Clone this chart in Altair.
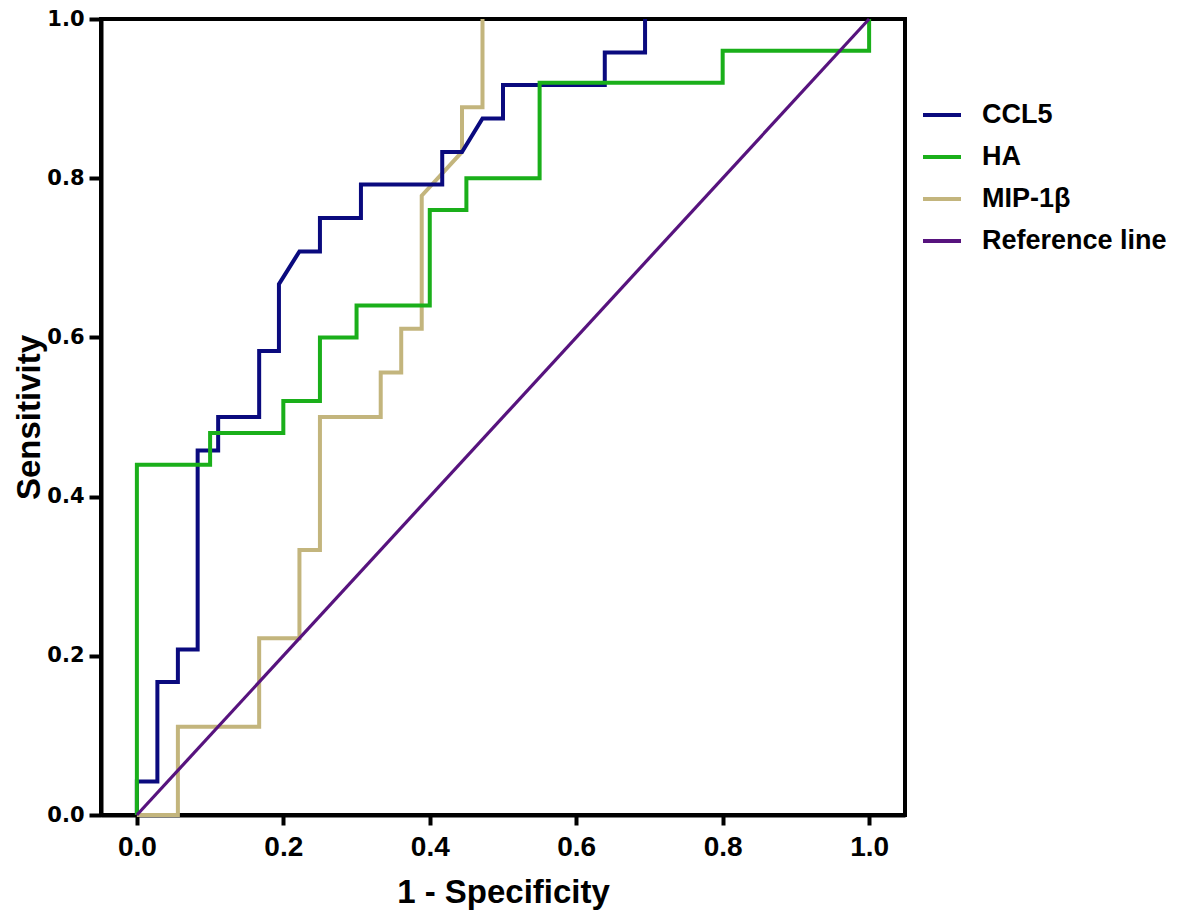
import altair as alt
import pandas as pd

# ROC curve points (1 - Specificity, Sensitivity)
ccl5_x = [0, 0, 0.028, 0.028, 0.056, 0.056, 0.083, 0.083, 0.111, 0.111, 0.167, 0.167, 0.194, 0.194,
          0.222, 0.25, 0.25, 0.306, 0.306, 0.417, 0.417, 0.444, 0.472, 0.5, 0.5, 0.639, 0.639, 0.694, 0.694]
ccl5_y = [0, 0.042, 0.042, 0.167, 0.167, 0.208, 0.208, 0.458, 0.458, 0.5, 0.5, 0.583, 0.583, 0.667,
          0.708, 0.708, 0.75, 0.75, 0.792, 0.792, 0.833, 0.833, 0.875, 0.875, 0.917, 0.917, 0.958, 0.958, 1.0]

ha_x = [0, 0, 0.1, 0.1, 0.2, 0.2, 0.25, 0.25, 0.3, 0.3, 0.4, 0.4, 0.45, 0.45, 0.55, 0.55, 0.8, 0.8, 1.0, 1.0]
ha_y = [0, 0.44, 0.44, 0.48, 0.48, 0.52, 0.52, 0.6, 0.6, 0.64, 0.64, 0.76, 0.76, 0.8, 0.8, 0.92, 0.92, 0.96, 0.96, 1.0]

mip_x = [0, 0.056, 0.056, 0.167, 0.167, 0.222, 0.222, 0.25, 0.25, 0.333, 0.333, 0.361, 0.361, 0.389,
         0.389, 0.444, 0.444, 0.472, 0.472]
mip_y = [0, 0, 0.111, 0.111, 0.222, 0.222, 0.333, 0.333, 0.5, 0.5, 0.556, 0.556, 0.611, 0.611,
         0.778, 0.833, 0.889, 0.889, 1.0]

ref_x = [0, 1]
ref_y = [0, 1]

series_names = ["CCL5", "HA", "MIP-1β", "Reference line"]
series_colors = ["#0A0A7E", "#1AAF1A", "#C3B57D", "#57137E"]
x_ticks = [0.0, 0.2, 0.4, 0.6, 0.8, 1.0]
y_ticks = [0.0, 0.2, 0.4, 0.6, 0.8, 1.0]

rows = []
for name, xs, ys in [("CCL5", ccl5_x, ccl5_y), ("HA", ha_x, ha_y),
                     ("MIP-1β", mip_x, mip_y), ("Reference line", ref_x, ref_y)]:
    for i, (a, b) in enumerate(zip(xs, ys)):
        rows.append({"series": name, "fpr": a, "tpr": b, "idx": i})
df = pd.DataFrame(rows)

color = alt.Color(
    "series:N",
    scale=alt.Scale(domain=series_names, range=series_colors),
    legend=alt.Legend(
        title=None, orient="none", legendX=820, legendY=75,
        symbolType="stroke", symbolSize=1444, symbolStrokeWidth=4,
        labelFont="Liberation Sans", labelFontWeight="bold", labelFontSize=27,
        labelColor="black", labelOffset=19, rowPadding=8, padding=0, labelLimit=400,
    ),
)

x_enc = alt.X(
    "fpr:Q",
    scale=alt.Scale(domain=[-0.049, 1.049], nice=False, zero=False),
    axis=alt.Axis(
        title="1 - Specificity", values=x_ticks, format=".1f",
        domainColor="black", domainWidth=4, tickColor="black", tickWidth=4, tickSize=10,
        labelFont="Liberation Sans", labelFontWeight="bold", labelFontSize=28, labelColor="black",
        labelPadding=8, grid=False,
        titleFont="Liberation Sans", titleFontWeight="bold", titleFontSize=33, titleColor="black",
        titleBaseline="alphabetic", titleY=87,
    ),
)
y_enc = alt.Y(
    "tpr:Q",
    scale=alt.Scale(domain=[0, 1], nice=False),
    axis=alt.Axis(
        title="Sensitivity", values=y_ticks, format=".1f",
        domainColor="black", domainWidth=4, tickColor="black", tickWidth=4, tickSize=12,
        labelFont="DejaVu Sans", labelFontWeight="bold", labelFontSize=21, labelColor="black",
        labelPadding=5, grid=False,
        titleFont="Liberation Sans", titleFontWeight="bold", titleFontSize=33, titleColor="black",
        titleBaseline="alphabetic", titleAngle=270, titleX=-62,
    ),
)

base = alt.Chart(df)
layers = []
for name, sw in [("MIP-1β", 4), ("CCL5", 4), ("HA", 4), ("Reference line", 3.2)]:
    layers.append(
        base.transform_filter(alt.datum.series == name)
        .mark_line(strokeWidth=sw, strokeCap="butt", strokeJoin="miter")
        .encode(x=x_enc, y=y_enc, color=color, order="idx:Q")
    )

chart = (
    alt.layer(*layers)
    .properties(
        width=804, height=796,
        autosize=alt.AutoSizeParams(type="none"),
        padding={"left": 93, "top": 11, "right": 268, "bottom": 96},
    )
    .configure(background="white", view=alt.ViewConfig(stroke="black", strokeWidth=4))
)

chart.save("out.html", embed_options={"renderer": "svg", "actions": False})
